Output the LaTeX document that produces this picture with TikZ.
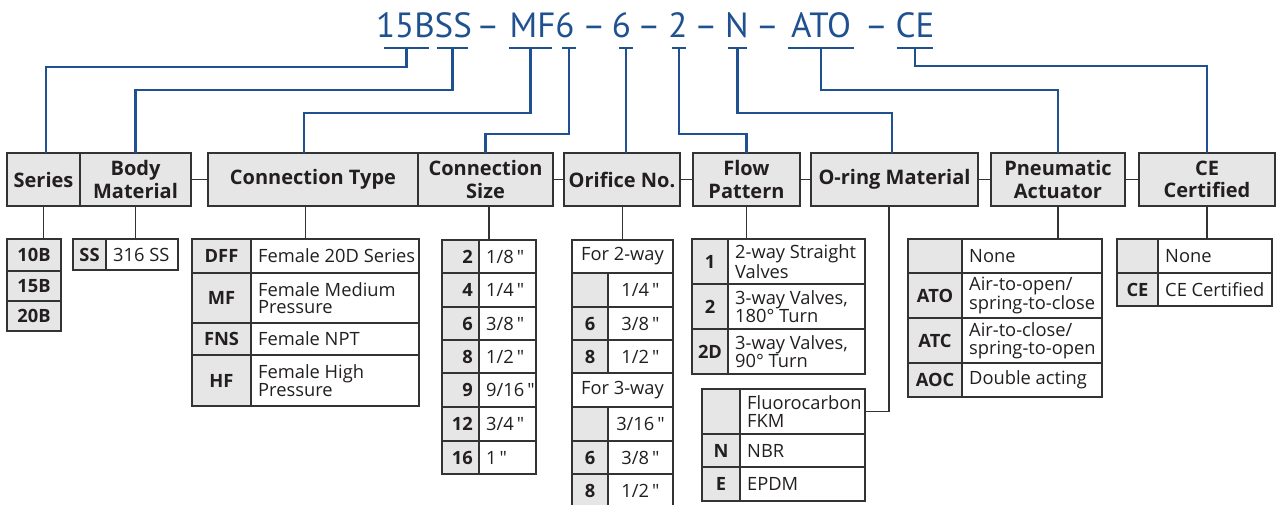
\documentclass[tikz,border=0pt]{standalone}
\usepackage{fontspec}
\setmainfont{Open Sans}[Ligatures=TeXOff]
\newfontfamily\codefam{PT Sans}
\usetikzlibrary{calc}
\definecolor{codeblue}{HTML}{1F5190}
\definecolor{linec}{HTML}{333333}
\definecolor{grayf}{HTML}{E6E6E6}
\definecolor{txt}{HTML}{231F20}
\newcommand\tabfont{\fontsize{18.3}{17.5}\selectfont}
\newcommand\hdrfont{\fontsize{20}{22.5}\selectfont\bfseries}
\newcommand\inch{\,"}
\tikzset{
  cellbox/.style={draw=linec, line width=1.3pt, anchor=north west, inner sep=0pt, outer sep=0pt},
  hdrbox/.style={draw=linec, line width=1.3pt, fill=grayf, anchor=north west, inner sep=0pt, outer sep=0pt,
                 minimum height=53pt, align=center, font=\hdrfont, text=txt},
  celltext/.style={text=txt, font=\tabfont, inner sep=0pt, align=left},
  codetext/.style={text=txt, font=\tabfont\bfseries, inner sep=0pt},
  link/.style={draw=linec, line width=1.3pt},
  bluelink/.style={draw=codeblue, line width=2.4pt},
  uline/.style={fill=codeblue, inner sep=0pt, outer sep=0pt, minimum height=2.4pt},
  codeword/.style={text=codeblue, font=\codefam\fontsize{35}{40}\selectfont, inner sep=0pt, anchor=base},
}
\newcommand\mkcell[6]{\node[cellbox, fill=#6, minimum width={(#4-#2)*1pt}, minimum height={(#5-#3)*1pt}] (#1) at (#2,#3) {};}
\newcommand\ctext[2]{\node[codetext] (#1t) at (#1.center) {#2};}
\newcommand\rtext[2]{\node[codetext, anchor=east] (#1t) at ([xshift=-6pt]#1.east) {#2};}
\newcommand\ltext[2]{\node[celltext, anchor=west] (#1t) at ([xshift=7pt]#1.west) {#2};}
\newcommand\mtext[2]{\node[celltext] (#1t) at (#1.center) {#2};}
\newcommand\hdr[4]{\node[hdrbox, minimum width={(#3-#2)*1pt}] (#1) at (#2,153) {#4};}
\begin{document}
\begin{tikzpicture}[x={(1pt,0pt)}, y={(0pt,-1pt)}]
\useasboundingbox[fill=white] (0,0) rectangle (1277,504);

% ---- code line
\node[codeword] (c1) at (424,37) {15BSS};
\node[codeword] (d1) at (488,37) {–};
\node[codeword] (c2) at (542,37) {MF6};
\node[codeword] (d2) at (594,37) {–};
\node[codeword] (c3) at (621.5,37) {6};
\node[codeword] (d3) at (649,37) {–};
\node[codeword] (c4) at (678,37) {2};
\node[codeword] (d4) at (706,37) {–};
\node[codeword] (c5) at (737,37) {N};
\node[codeword] (d5) at (767.5,37) {–};
\node[codeword] (c6) at (821,37) {ATO};
\node[codeword] (d6) at (876.5,37) {–};
\node[codeword] (c7) at (915,37) {CE};

\node[uline, minimum width=45pt] (u1) at (406.5,48) {};
\node[uline, minimum width=31pt] (u2) at (452.5,48) {};
\node[uline, minimum width=43pt] (u3) at (530.5,48) {};
\node[uline, minimum width=14pt] (u4) at (569,48) {};
\node[uline, minimum width=14pt] (u5) at (626,48) {};
\node[uline, minimum width=14pt] (u6) at (679,48) {};
\node[uline, minimum width=19pt] (u7) at (737.5,48) {};
\node[uline, minimum width=66pt] (u8) at (821,48) {};
\node[uline, minimum width=36pt] (u9) at (915,48) {};

% ---- header row
\hdr{series}{7}{80}{Series}
\hdr{body}{80}{191}{Body\\Material}
\hdr{ctype}{208}{418}{Connection Type}
\hdr{csize}{418}{553}{Connection\\Size}
\hdr{orifice}{564}{680}{Orifice No.}
\hdr{flow}{693}{800}{Flow\\Pattern}
\hdr{oring}{811}{978}{O-ring Material}
\hdr{pneum}{991}{1125}{Pneumatic\\Actuator}
\hdr{ce}{1139}{1275}{CE\\Certified}

\draw[link] (body.east) -- (ctype.west);
\draw[link] (csize.east) -- (orifice.west);
\draw[link] (orifice.east) -- (flow.west);
\draw[link] (flow.east) -- (oring.west);
\draw[link] (oring.east) -- (pneum.west);
\draw[link] (pneum.east) -- (ce.west);

% ---- blue connectors
\draw[bluelink] (u1.center) -- ++(0,19) -| ([xshift=2.5pt]series.north);
\draw[bluelink] (u2.center) -- ++(0,42) -| (body.north);
\draw[bluelink] (u3.center) -- ++(0,65) -| ([xshift=-9pt]ctype.north);
\draw[bluelink] (u4.center) -- ++(0,86) -| (csize.north);
\draw[bluelink] (u5.center) -- (u5.center |- orifice.north);
\draw[bluelink] (u6.center) -- ++(0,86) -| (flow.north);
\draw[bluelink] (u7.center) -- ++(0,65) -| ([xshift=-2.5pt]oring.north);
\draw[bluelink] (u8.center) -- ++(0,42) -| (pneum.north);
\draw[bluelink] (u9.center) -- ++(0,18) -| (ce.north);

% ---- Series table
\mkcell{s1}{7}{239}{61}{271}{grayf}\ctext{s1}{10B}
\mkcell{s2}{7}{271}{61}{301}{grayf}\ctext{s2}{15B}
\mkcell{s3}{7}{301}{61}{331}{grayf}\ctext{s3}{20B}
% ---- Body
\mkcell{b1c}{73}{239}{106}{270}{grayf}\ctext{b1c}{SS}
\mkcell{b1v}{106}{239}{178}{270}{white}\ltext{b1v}{316 SS}
% ---- Connection type
\mkcell{ct1c}{192}{239}{251}{273}{grayf}\ctext{ct1c}{DFF}
\mkcell{ct1v}{251}{239}{419}{273}{white}\ltext{ct1v}{Female 20D Series}
\mkcell{ct2c}{192}{273}{251}{323}{grayf}\ctext{ct2c}{MF}
\mkcell{ct2v}{251}{273}{419}{323}{white}\ltext{ct2v}{Female Medium\\Pressure}
\mkcell{ct3c}{192}{323}{251}{355}{grayf}\ctext{ct3c}{FNS}
\mkcell{ct3v}{251}{323}{419}{355}{white}\ltext{ct3v}{Female NPT}
\mkcell{ct4c}{192}{355}{251}{406}{grayf}\ctext{ct4c}{HF}
\mkcell{ct4v}{251}{355}{419}{406}{white}\ltext{ct4v}{Female High\\Pressure}
% ---- Connection size
\mkcell{cs1c}{442}{240}{479}{273}{grayf}\rtext{cs1c}{2}
\mkcell{cs1v}{479}{240}{536}{273}{white}\ltext{cs1v}{1/8\inch}
\mkcell{cs2c}{442}{273}{479}{307}{grayf}\rtext{cs2c}{4}
\mkcell{cs2v}{479}{273}{536}{307}{white}\ltext{cs2v}{1/4\inch}
\mkcell{cs3c}{442}{307}{479}{340}{grayf}\rtext{cs3c}{6}
\mkcell{cs3v}{479}{307}{536}{340}{white}\ltext{cs3v}{3/8\inch}
\mkcell{cs4c}{442}{340}{479}{373}{grayf}\rtext{cs4c}{8}
\mkcell{cs4v}{479}{340}{536}{373}{white}\ltext{cs4v}{1/2\inch}
\mkcell{cs5c}{442}{373}{479}{407}{grayf}\rtext{cs5c}{9}
\mkcell{cs5v}{479}{373}{536}{407}{white}\ltext{cs5v}{9/16\inch}
\mkcell{cs6c}{442}{407}{479}{441}{grayf}\rtext{cs6c}{12}
\mkcell{cs6v}{479}{407}{536}{441}{white}\ltext{cs6v}{3/4\inch}
\mkcell{cs7c}{442}{441}{479}{474}{grayf}\rtext{cs7c}{16}
\mkcell{cs7v}{479}{441}{536}{474}{white}\ltext{cs7v}{1\inch}
% ---- Orifice
\mkcell{o0}{572}{240}{673}{273}{white}\mtext{o0}{For 2-way}
\mkcell{o1c}{572}{273}{608}{307}{grayf}
\mkcell{o1v}{608}{273}{673}{307}{white}\mtext{o1v}{1/4\inch}
\mkcell{o2c}{572}{307}{608}{340}{grayf}\ctext{o2c}{6}
\mkcell{o2v}{608}{307}{673}{340}{white}\mtext{o2v}{3/8\inch}
\mkcell{o3c}{572}{340}{608}{373}{grayf}\ctext{o3c}{8}
\mkcell{o3v}{608}{340}{673}{373}{white}\mtext{o3v}{1/2\inch}
\mkcell{o4}{572}{373}{673}{407}{white}\mtext{o4}{For 3-way}
\mkcell{o5c}{572}{407}{608}{441}{grayf}
\mkcell{o5v}{608}{407}{673}{441}{white}\mtext{o5v}{3/16\inch}
\mkcell{o6c}{572}{441}{608}{474}{grayf}\ctext{o6c}{6}
\mkcell{o6v}{608}{441}{673}{474}{white}\mtext{o6v}{3/8\inch}
\mkcell{o7c}{572}{474}{608}{508}{grayf}\ctext{o7c}{8}
\mkcell{o7v}{608}{474}{673}{508}{white}\mtext{o7v}{1/2\inch}
% ---- Flow pattern
\mkcell{fl1c}{692}{239}{728}{284}{grayf}\ctext{fl1c}{1}
\mkcell{fl1v}{728}{239}{865}{284}{white}\ltext{fl1v}{2-way Straight\\Valves}
\mkcell{fl2c}{692}{284}{728}{329}{grayf}\ctext{fl2c}{2}
\mkcell{fl2v}{728}{284}{865}{329}{white}\ltext{fl2v}{3-way Valves,\\180° Turn}
\mkcell{fl3c}{692}{329}{728}{374}{grayf}\ctext{fl3c}{2D}
\mkcell{fl3v}{728}{329}{865}{374}{white}\ltext{fl3v}{3-way Valves,\\90° Turn}
% ---- O-ring
\mkcell{or1c}{702}{389}{740}{434}{grayf}
\mkcell{or1v}{740}{389}{865}{434}{white}\ltext{or1v}{Fluorocarbon\\FKM}
\mkcell{or2c}{702}{434}{740}{467}{grayf}\ctext{or2c}{N}
\mkcell{or2v}{740}{434}{865}{467}{white}\ltext{or2v}{NBR}
\mkcell{or3c}{702}{467}{740}{501}{grayf}\ctext{or3c}{E}
\mkcell{or3v}{740}{467}{865}{501}{white}\ltext{or3v}{EPDM}
% ---- Pneumatic actuator
\mkcell{pn1c}{908}{239}{962}{273}{grayf}
\mkcell{pn1v}{962}{239}{1102}{273}{white}\ltext{pn1v}{None}
\mkcell{pn2c}{908}{273}{962}{318}{grayf}\ctext{pn2c}{ATO}
\mkcell{pn2v}{962}{273}{1102}{318}{white}\ltext{pn2v}{Air-to-open/\\spring-to-close}
\mkcell{pn3c}{908}{318}{962}{363}{grayf}\ctext{pn3c}{ATC}
\mkcell{pn3v}{962}{318}{1102}{363}{white}\ltext{pn3v}{Air-to-close/\\spring-to-open}
\mkcell{pn4c}{908}{363}{962}{397}{grayf}\ctext{pn4c}{AOC}
\mkcell{pn4v}{962}{363}{1102}{397}{white}\ltext{pn4v}{Double acting}
% ---- CE
\mkcell{ce1c}{1117}{239}{1158}{273}{grayf}
\mkcell{ce1v}{1158}{239}{1272}{273}{white}\ltext{ce1v}{None}
\mkcell{ce2c}{1117}{273}{1158}{306}{grayf}\ctext{ce2c}{CE}
\mkcell{ce2v}{1158}{273}{1272}{306}{white}\ltext{ce2v}{CE Certified}

% ---- stems
\coordinate (ctTop) at ($(ct1c.north west)!0.5!(ct1v.north east)$);
\coordinate (csTop) at ($(cs1c.north west)!0.5!(cs1v.north east)$);
\draw[link] (series.south) -- (series.south |- s1.north);
\draw[link] (body.south) -- (body.south |- b1v.north);
\draw[link] (ctTop |- ctype.south) -- (ctTop);
\draw[link] (csTop |- csize.south) -- (csTop);
\draw[link] (o0.north |- orifice.south) -- (o0.north);
\draw[link] (flow.south) -- (flow.south |- fl1v.north);
\draw[link] ([xshift=-5.5pt]oring.south) |- (or1v.east);
\draw[link] (pneum.south) -- (pneum.south |- pn1v.north);
\draw[link] (ce.south) -- (ce.south |- ce1v.north);
\end{tikzpicture}
\end{document}
